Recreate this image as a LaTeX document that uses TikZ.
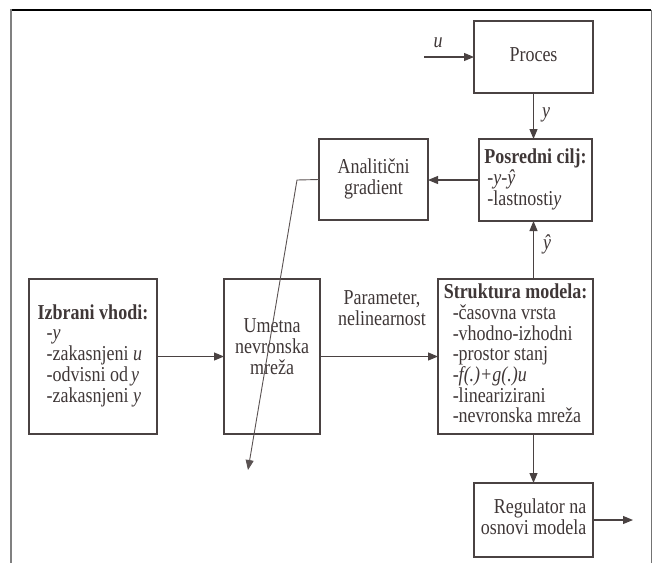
\documentclass[tikz,border=0pt]{standalone}
\usepackage{fontspec}
\usepackage{graphicx}
\setmainfont{Liberation Serif}
\usetikzlibrary{arrows.meta}
\definecolor{ink}{HTML}{4A4242}
\definecolor{txt}{HTML}{3F3737}
\definecolor{thinline}{HTML}{5A5252}
\newcommand{\talltext}[2][c]{\scalebox{1}[1.18]{\begin{tabular}{@{}#1@{}}#2\end{tabular}}}
\begin{document}
\begin{tikzpicture}[x=1pt,y=-1pt,
  every node/.style={font=\fontsize{18}{17}\selectfont, text=txt},
  box/.style={draw=ink, line width=2.4pt, inner sep=0pt, outer sep=0pt},
  arr/.style={draw=ink, line width=1.1pt, -{Triangle[length=10pt,width=8pt]}},
  thinarr/.style={draw=thinline, line width=0.9pt, -{Triangle[length=10pt,width=8pt]}},
  lbl/.style={inner sep=0pt}]
\useasboundingbox (0,0) rectangle (659,563);
% frame
\draw[black, line width=1.2pt] (11,10) -- (651,10);
\draw[gray, line width=2pt] (11,9.4) -- (11,563);
\draw[gray!90!black, line width=1pt] (651,10) -- (651,563);

% boxes
\node[box, minimum width=119pt, minimum height=72pt] (proc) at (533.5,57) {\talltext{Proces}};
\node[box, minimum width=113pt, minimum height=82pt] (pos) at (535.5,180)
  {\talltext[l]{\textbf{Posredni cilj:}\\\hspace*{3pt}\textit{-y-ŷ}\\\hspace*{3pt}-lastnosti\textit{y}}};
\node[box, minimum width=109pt, minimum height=81pt] (ana) at (373.5,179.5)
  {\talltext{Analitični\\gradient}};
\node[box, minimum width=128pt, minimum height=155pt] (izb) at (93,356.5)
  {\talltext[l]{\textbf{Izbrani vhodi:}\\\hspace*{9pt}-\textit{y}\\\hspace*{9pt}-zakasnjeni \textit{u}\\\hspace*{9pt}-odvisni od\,\textit{y}\\\hspace*{9pt}-zakasnjeni \textit{y}}};
\node[box, minimum width=96pt, minimum height=155pt] (ume) at (272,356.5)
  {\talltext{Umetna\\nevronska\\mreža\\[12pt]}};
\node[box, minimum width=155pt, minimum height=155pt] (str) at (515.5,356.5)
  {\talltext[l]{\textbf{Struktura modela:}\\\hspace*{9pt}-časovna vrsta\\\hspace*{9pt}-vhodno-izhodni\\\hspace*{9pt}-prostor stanj\\\hspace*{9pt}\textit{-f(.)+g(.)u}\\\hspace*{9pt}-linearizirani\\\hspace*{9pt}-nevronska mreža}};
\node[box, minimum width=119pt, minimum height=74pt] (reg) at (533.5,520)
  {\talltext[r]{Regulator na\\osnovi modela}};

% labels
\node[lbl] (lu) at (438,43) {\talltext{\textit{u}}};
\node[lbl] (ly) at (546,113) {\talltext{\textit{y}}};
\node[lbl] (lyh) at (547,245) {\talltext{\textit{ŷ}}};
\node[lbl] (lpar) at (382,311) {\talltext{Parameter,\\nelinearnost}};

% coordinates
\coordinate (uin) at (424,57);
\coordinate (regout) at (633,520);
\coordinate (bend) at (297,180);
\coordinate (dend) at (248,470);

% connectors
\draw[arr] (uin) -- (proc.west |- uin);
\draw[arr] (proc.south) -- (proc.south |- pos.north);
\draw[arr] (pos.west) -- (ana.east |- pos.west);
\draw[arr] (str.north -| proc.south) -- (pos.south -| proc.south);
\draw[arr] (izb.east) -- (ume.west);
\draw[arr] (ume.east) -- (str.west);
\draw[arr] (str.south -| reg.north) -- (reg.north);
\draw[arr] (reg.east) -- (regout);
\draw[thinarr] (ana.west) -- (bend) -- (dend);
\end{tikzpicture}
\end{document}
